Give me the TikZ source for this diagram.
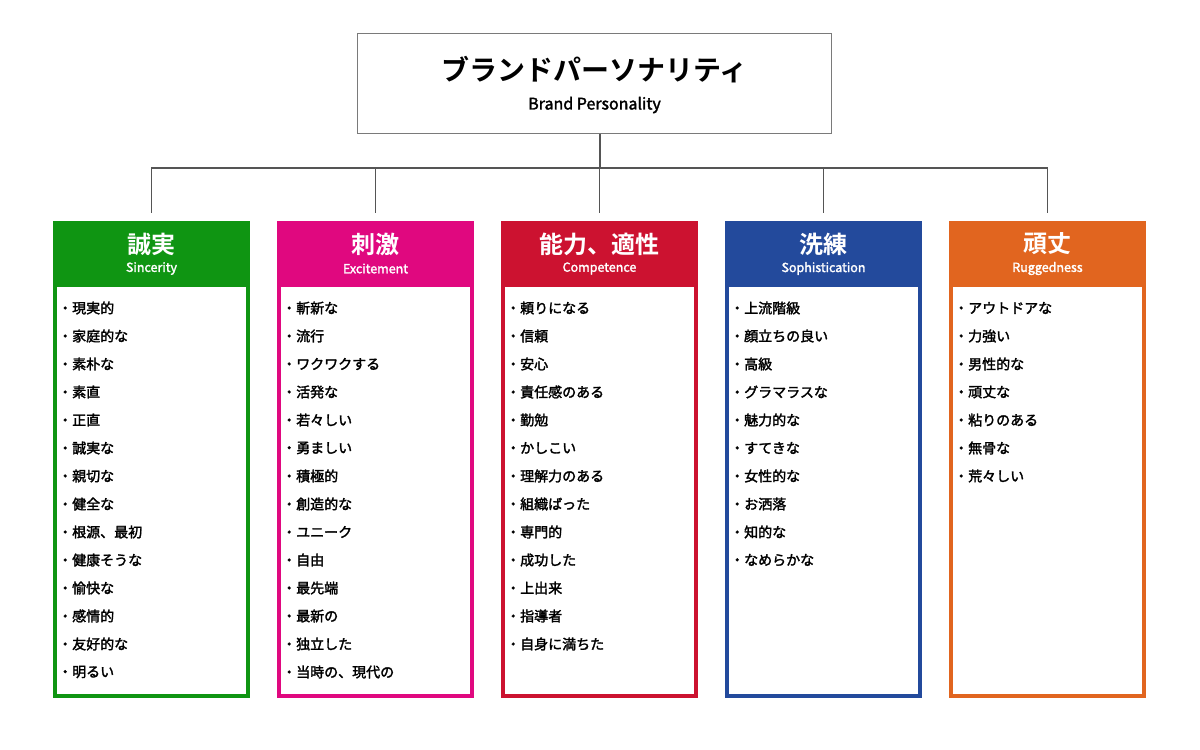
\documentclass[tikz,border=0pt]{standalone}
\usepackage{fontspec}
\setmainfont{Noto Sans CJK JP}[BoldFont={Noto Sans CJK JP Bold}]
\newfontfamily\jpmed{Noto Sans CJK JP}[FakeBold=2]
\definecolor{cgreen}{HTML}{0F9512}
\definecolor{cmagenta}{HTML}{E0087F}
\definecolor{cred}{HTML}{CC1230}
\definecolor{cblue}{HTML}{234A9C}
\definecolor{corange}{HTML}{E1651F}
\definecolor{linegray}{HTML}{555555}
\definecolor{boxgray}{HTML}{7A7A7A}
\tikzset{
  conn/.style={draw=linegray, line width=1.4pt},
  topbox/.style={draw=boxgray, line width=1pt, minimum width=474pt, minimum height=100pt, inner sep=0},
  colbox/.style={line width=4pt, fill=white, minimum width=193pt, minimum height=473pt, inner sep=0},
  headtext/.style={text=white, font=\fontsize{24}{24}\selectfont\bfseries, inner sep=0},
  subtext/.style={text=white, font=\fontsize{12.5}{12.5}\selectfont\jpmed, inner sep=0},
  item/.style={anchor=west, inner sep=0, font=\fontsize{14}{14}\selectfont\jpmed},
}
\begin{document}
\begin{tikzpicture}[x=1pt,y=-1pt]
\useasboundingbox[fill=white] (0,0) rectangle (1200,750);

% root box
\node[topbox] (top) at (594.5,83.5) {};
\node[inner sep=0, font=\fontsize{28}{28}\selectfont\bfseries] (toptitle) at (594.5,70) {ブランドパーソナリティ};
\node[inner sep=0, font=\fontsize{16}{16}\selectfont\jpmed] (topsub) at (594.5,105) {Brand Personality};

% five category columns
\foreach \n/\cx/\col/\jp/\en/\items in {
  1/151.5/cgreen/誠実/Sincerity/{現実的,家庭的な,素朴な,素直,正直,誠実な,親切な,健全な,根源、最初,健康そうな,愉快な,感情的,友好的な,明るい},
  2/375.5/cmagenta/刺激/Excitement/{斬新な,流行,ワクワクする,活発な,若々しい,勇ましい,積極的,創造的な,ユニーク,自由,最先端,最新の,独立した,当時の、現代の},
  3/599.5/cred/能力、適性/Competence/{頼りになる,信頼,安心,責任感のある,勤勉,かしこい,理解力のある,組織ばった,専門的,成功した,上出来,指導者,自身に満ちた},
  4/823.5/cblue/洗練/Sophistication/{上流階級,顔立ちの良い,高級,グラマラスな,魅力的な,すてきな,女性的な,お洒落,知的な,なめらかな},
  5/1047.5/corange/頑丈/Ruggedness/{アウトドアな,力強い,男性的な,頑丈な,粘りのある,無骨な,荒々しい}}
{
  \node[colbox, draw=\col] (col\n) at (\cx,459.5) {};
  \fill[\col] (\cx-98.5,221) rectangle (\cx+98.5,287);
  \coordinate (h\n) at (\cx,221);
  \node[headtext] (head\n) at (\cx,244) {\jp};
  \node[subtext] (sub\n) at (\cx,268.5) {\en};
  \foreach \t [count=\k] in \items {
    \node[item] (c\n-\k) at (\cx-93.5,{308+28*(\k-1)}) {・\t};
  }
}

% tree connectors
\coordinate (bus) at (600,168);
\draw[conn] (bus|-top.south) -- (bus);
\foreach \n in {1,...,5} {
  \draw[conn, shorten >=8pt] (bus) -| (h\n);
}
\end{tikzpicture}
\end{document}
